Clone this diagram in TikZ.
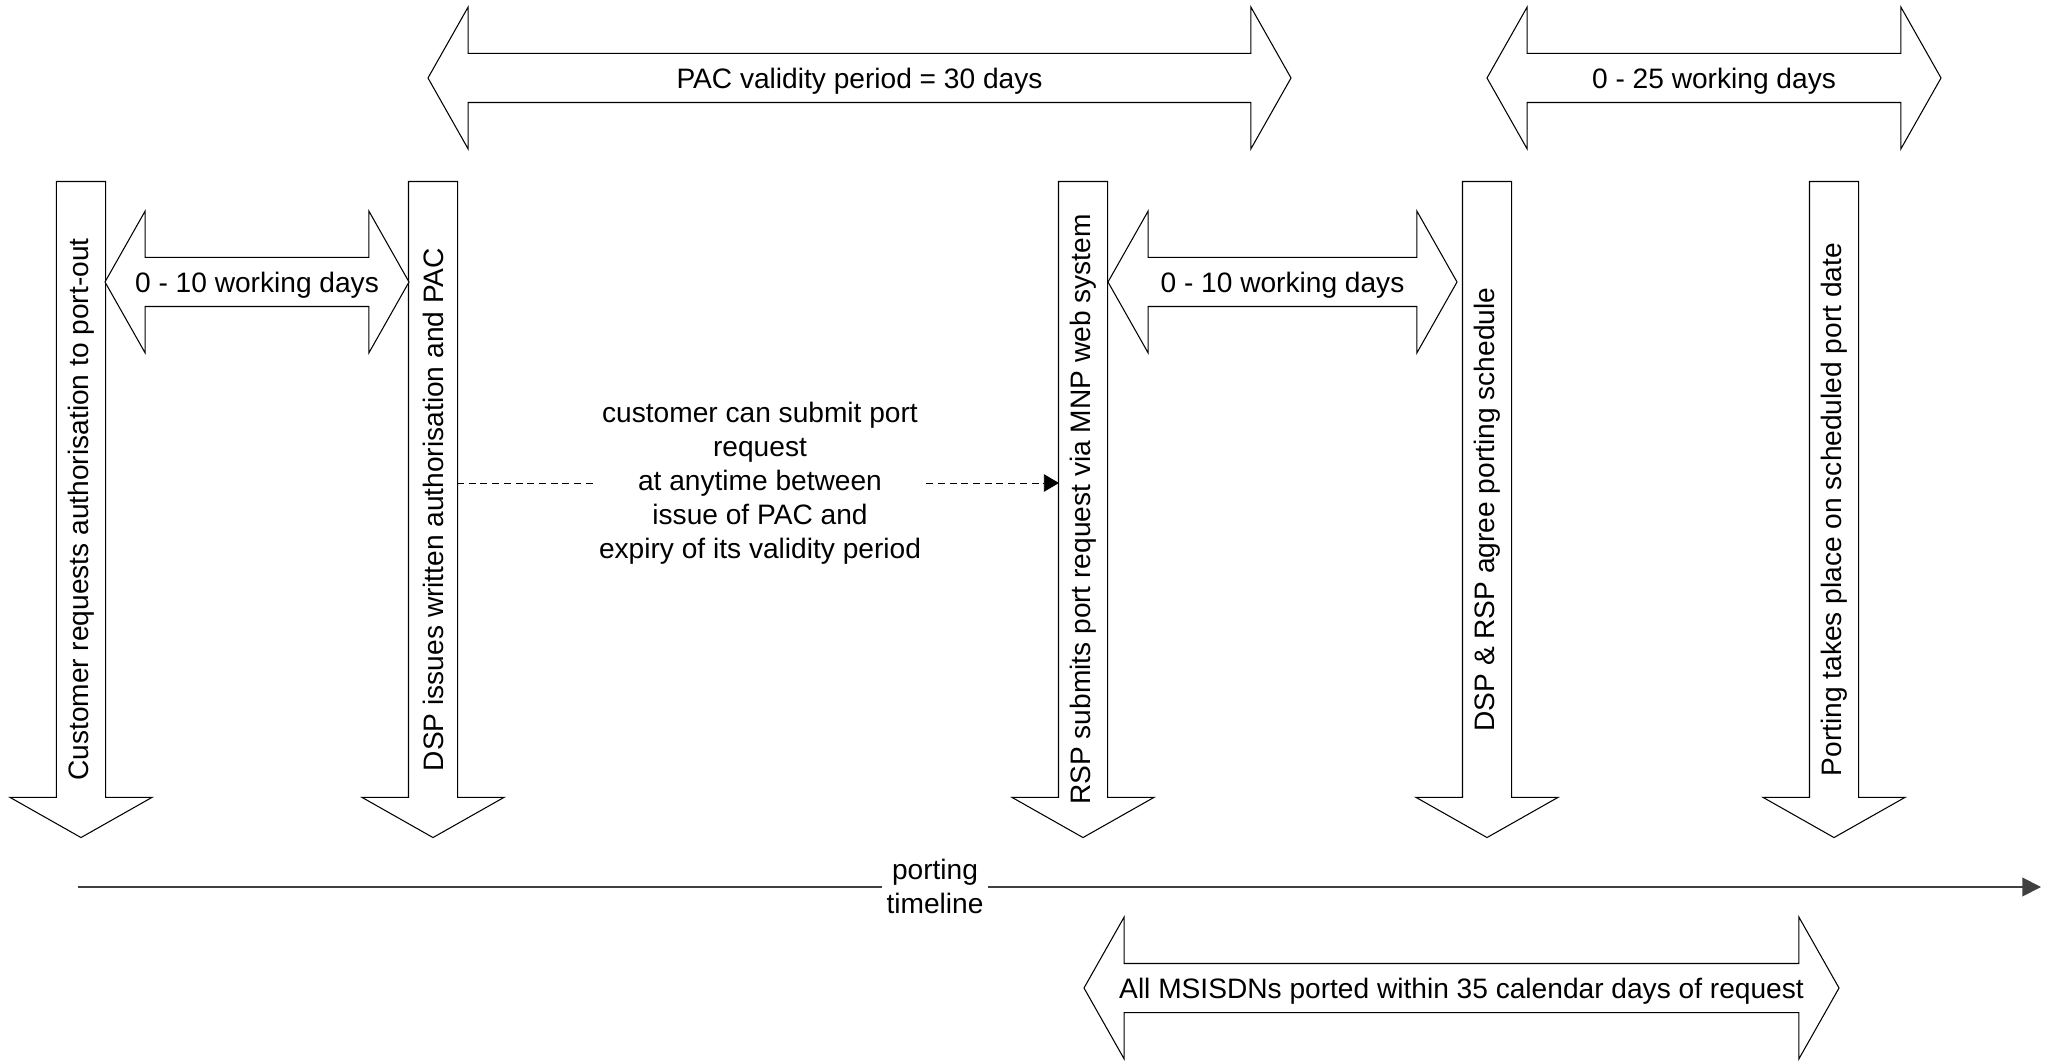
\documentclass[tikz,border=0pt]{standalone}
\usepackage{fontspec}
\setmainfont{Liberation Sans}
\usepackage{tikz}
\usetikzlibrary{arrows.meta,shapes.arrows,calc}

\begin{document}
\begin{tikzpicture}[
    x=0.015cm, y=-0.015cm,
    downarrow/.style={single arrow, draw=black, fill=white, line width=0.45pt,
                      rotate=-90, anchor=tail, minimum height=9.84cm,
                      inner xsep=0pt, inner ysep=0.36cm,
                      single arrow head extend=0.6975cm, single arrow tip angle=121},
    spanarrow/.style={double arrow, draw=black, fill=white, line width=0.45pt,
                      inner xsep=0pt, inner ysep=0.36cm,
                      double arrow head extend=0.6975cm, double arrow tip angle=121},
    txt/.style={font=\fontsize{12pt}{14.5pt}\selectfont, align=center, inner sep=2pt},
    spantxt/.style={txt, yshift=-1.2pt},
    steptxt/.style={txt, rotate=90},
    dashline/.style={dash pattern=on 3pt off 2pt, line width=0.4pt},
    timeline/.style={line width=0.8pt, draw=black!75,
                     -{Triangle[length=8pt,width=8pt]}}
]
    \useasboundingbox (0,0) rectangle (2045,1061);

    % Steps (down arrows)
    \node[downarrow] (ask)    at (81, 181) {};
    \node[downarrow] (issue)  at (433, 181) {};
    \node[downarrow] (submit) at (1083, 181) {};
    \node[downarrow] (agree)  at (1487, 181) {};
    \node[downarrow] (port)   at (1834, 181) {};

    \node[steptxt] (askT)    at ($(ask.tail)!0.5!(ask.tip)$)       {Customer requests authorisation to port-out};
    \node[steptxt] (issueT)  at ($(issue.tail)!0.5!(issue.tip)$)   {DSP issues written authorisation and PAC};
    \node[steptxt] (submitT) at ($(submit.tail)!0.5!(submit.tip)$) {RSP submits port request via MNP web system};
    \node[steptxt] (agreeT)  at ($(agree.tail)!0.5!(agree.tip)$)   {DSP \& RSP agree porting schedule};
    \node[steptxt] (portT)   at ($(port.tail)!0.5!(port.tip)$)     {Porting takes place on scheduled port date};

    % Periods (double arrows)
    \node[spanarrow, minimum height=4.56cm]   (wd1)   at (257, 282)    {};
    \node[spanarrow, minimum height=12.945cm] (valid) at (859.5, 78)   {};
    \node[spanarrow, minimum height=5.235cm]  (wd2)   at (1282.5, 282) {};
    \node[spanarrow, minimum height=6.81cm]   (wd3)   at (1714, 78)    {};
    \node[spanarrow, minimum height=11.325cm] (total) at (1461.5, 988) {};

    \node[spantxt] (wd1T)   at (wd1)   {0 - 10 working days};
    \node[spantxt] (validT) at (valid) {PAC validity period = 30 days};
    \node[spantxt] (wd2T)   at (wd2)   {0 - 10 working days};
    \node[spantxt] (wd3T)   at (wd3)   {0 - 25 working days};
    \node[spantxt] (totalT) at (total) {All MSISDNs ported within 35 calendar days of request};

    % Port request window
    \coordinate (issueR)  at (457, 483);
    \coordinate (submitL) at (1059, 483);
    \node[txt] (note) at (760, 483) {customer can submit port\\request\\at anytime between\\issue of PAC and\\expiry of its validity period};
    \draw[dashline] (issueR) -- (note.west);
    \draw[dashline, -{Triangle[length=6.5pt,width=7.5pt]}] (note.east) -- (submitL);

    % Timeline
    \coordinate (tlStart) at (78, 887);
    \coordinate (tlEnd)   at (2041, 887);
    \draw[timeline] (tlStart) -- (tlEnd);
    \node[txt, fill=white] (when) at (935, 886) {porting\\timeline};
\end{tikzpicture}
\end{document}
